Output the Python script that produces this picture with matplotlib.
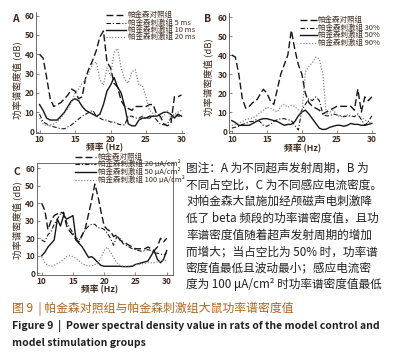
import numpy as np
import matplotlib
matplotlib.use("Agg")
import matplotlib.pyplot as plt
from matplotlib.lines import Line2D

plt.rcParams['font.family'] = ['Noto Sans CJK SC', 'DejaVu Sans']
plt.rcParams['lines.scale_dashes'] = False

# ---------------- data ----------------
freq = [10, 10.5, 11, 11.5, 12, 12.5, 13, 13.5, 14, 14.5, 15, 15.5, 16, 16.5, 17, 17.5,
        18, 18.5, 19, 19.5, 20, 20.5, 21, 21.5, 22, 22.5, 23, 23.5, 24, 24.5, 25, 25.5,
        26, 26.5, 27, 27.5, 28, 28.5, 29, 29.5, 30]

# Panel A: ultrasound emission period
a_control = [40, 38, 28, 17, 13, 14, 15, 17, 19, 22, 21, 17, 18, 28, 33, 37,
             42, 49, 52, 36, 33, 25, 23, 16, 13, 12, 11, 13, 13, 13, 13, 14,
             14, 9, 8, 4, 3, 4, 18, 18, 19]
a_5ms = [9, 5, 4, 3, 2.5, 2, 1.5, 1.5, 2.5, 3.5, 5, 6.5, 8, 9, 10, 11,
         8, 7, 6, 6, 5, 5, 4, 3.5, 3.5, 8, 8, 7, 7, 8, 7, 7,
         8, 6, 4, 3.5, 4, 7, 9, 8, 8]
a_10ms = [14, 11, 7, 6, 6, 6, 8, 10, 13, 16, 17, 16, 13, 11, 10, 9,
          8, 9, 14, 21, 24, 28, 23, 20, 13, 4, 3, 3, 6, 7, 7, 8,
          8, 8, 9, 10, 10, 9, 7, 9, 8]
a_20ms = [7, 4, 3, 3.5, 4, 5, 7, 9.5, 12, 15, 20, 22, 25, 27, 31, 35,
          36, 27, 24, 33, 29, 41, 43, 33, 27, 25, 31, 32, 24, 24, 18, 11,
          9.5, 8, 7, 8, 11, 7, 9, 10, 11]

# Panel B: duty cycle
b_control = [40, 39, 30, 17, 12, 13, 15, 16, 19, 22, 20, 16, 14, 22, 30, 35,
             40, 53, 43, 35, 30, 20, 15, 13, 12, 11, 9, 10, 11, 12, 13, 13,
             13, 13, 13, 11, 22, 10, 18, 16, 18]
b_30 = [1.5, 2, 2.5, 3.5, 4, 5, 5, 6, 5, 3, 2.5, 3.5, 5, 6, 6.5, 6.5,
        6, 5.5, 3, 0.5, 11, 14, 17, 16, 18, 16, 9, 8, 8, 9, 8.5, 8,
        7.5, 8, 8, 7.5, 9, 6, 3, 5, 8]
b_50 = [5.5, 4.5, 3, 3, 3, 3, 4, 5, 6, 6.5, 6.5, 6, 5.5, 5, 4, 3,
        3.5, 3.5, 5, 8, 10, 11, 9, 6.5, 4, 1.5, 0.8, 1, 2, 2.5, 3, 3,
        2.5, 3, 4, 3.5, 3.5, 3, 3, 3.5, 4]
b_90 = [3, 3.5, 4, 5, 6, 6.5, 7, 8, 9.5, 11, 12.5, 12, 11, 10, 13, 14,
        12.5, 13.5, 13, 11, 9.5, 31, 34, 36, 39, 38, 30, 9, 10, 11, 8.5, 7.5,
        8, 8.5, 7.5, 8, 8, 7, 6, 4, 5]

# Panel C: induced current density
c_control = [40, 36, 25, 30, 33, 34, 35, 34, 27, 24, 22, 19, 18, 22, 26, 34,
             42, 51, 44, 35, 27, 25, 24, 21, 22, 19, 18, 17, 16, 15, 14, 14,
             14, 14, 15, 14, 13, 15, 20, 18, 20]
c_20 = [19, 18, 22, 24, 28, 31, 34, 35, 29, 26, 23, 20, 19, 22, 25, 27,
        28, 28, 26, 26, 25, 23, 20, 16, 21, 20, 17, 16, 15, 14, 13.5, 13,
        12.5, 13, 13.5, 13, 11.5, 11.5, 11, 10.5, 11.5]
c_50 = [10, 12, 15, 17, 19, 31, 27, 33, 31, 32, 33, 19, 17, 15, 12, 9,
        9.5, 8, 6, 4.5, 4, 4, 4, 4, 4, 4, 3.8, 3.8, 3.8, 4, 5, 5.5,
        6, 6.5, 7, 10, 13, 8, 6, 8, 13]
c_100 = [9.5, 6, 4.5, 4, 4.5, 5.5, 6.5, 8, 9.5, 10, 9.5, 8.5, 7, 5.5, 4.5, 4.2,
         4.2, 5, 6, 9, 13, 15, 12, 9, 6, 4.5, 4, 4, 4.2, 4.5, 5, 5,
         5.5, 5.5, 6, 6, 6, 6.5, 7, 7, 7.5]

labels_a = ['帕金森对照组', '帕金森刺激组 5 ms', '帕金森刺激组 10 ms', '帕金森刺激组 20 ms']
labels_b = ['帕金森对照组', '帕金森刺激组 30%', '帕金森刺激组 50%', '帕金森刺激组 90%']
labels_c = ['帕金森对照组', '帕金森刺激组 20 μA/cm²', '帕金森刺激组 50 μA/cm²', '帕金森刺激组 100 μA/cm²']

xticks = [10, 15, 20, 25, 30]
yticks = [0, 10, 20, 30, 40, 50, 60]
xlabel = '频率 (Hz)'
ylabel = '功率谱密度值 (dB)'

note_lines = ['图注：A 为不同超声发射周期，B 为',
              '不同占空比，C 为不同感应电流密度。',
              '对帕金森大鼠施加经颅磁声电刺激降',
              '低了 beta 频段的功率谱密度值，且功',
              '率谱密度值随着超声发射周期的增加',
              '而增大；当占空比为 50% 时，功率谱',
              '密度值最低且波动最小；感应电流密',
              '度为 100 μA/cm² 时功率谱密度值最低']
cap_cn = '图 9  | 帕金森对照组与帕金森刺激组大鼠功率谱密度值'
cap_en1 = 'Figure 9  |  Power spectral density value in rats of the model control and'
cap_en2 = 'model stimulation groups'

# ---------------- styles ----------------
TXT = '#3d2a1c'
styles = [dict(color='#161616', lw=1.0, dashes=(5.0, 2.2)),
          dict(color='#161616', lw=0.8, dashes=(3.2, 1.4, 0.8, 1.4)),
          dict(color='#161616', lw=1.0, linestyle='-'),
          dict(color='#7a7a7a', lw=0.9, dashes=(0.8, 1.3))]

W, H = 397, 364
fig = plt.figure(figsize=(W / 100, H / 100), dpi=100)


def fx(px):
    return px / W


def fy(py):
    return 1 - py / H


def make_ax(l, t, r, b, xlim, ylim, box=False):
    ax = fig.add_axes([fx(l), fy(b), fx(r) - fx(l), fy(t) - fy(b)])
    ax.set_xlim(*xlim)
    ax.set_ylim(*ylim)
    ax.set_xticks(xticks)
    ax.set_yticks(yticks)
    for s in ['top', 'right']:
        ax.spines[s].set_visible(box)
    for s in ax.spines.values():
        s.set_linewidth(0.6)
        s.set_color('#555555')
    ax.tick_params(direction='in', length=2, width=0.5, colors='#555555',
                   labelcolor=TXT, labelsize=6.0, pad=1.2)
    for lab in ax.get_xticklabels() + ax.get_yticklabels():
        lab.set_fontweight('bold')
    ax.set_facecolor('none')
    return ax


def plot_series(ax, series):
    for ys, st in zip(series, styles):
        ax.plot(freq, ys, **st)


def legend(x0, x1, xt, ys, labels):
    for py, lab, st in zip(ys, labels, styles):
        fig.add_artist(Line2D([fx(x0), fx(x1)], [fy(py), fy(py)], transform=fig.transFigure, **st))
        fig.text(fx(xt), fy(py), lab, fontsize=5.4, color=TXT, va='center', ha='left')


# Panel A
axA = make_ax(36, 11.7, 184, 133, (9.5, 30.35), (-0.7, 62))
plot_series(axA, [a_control, a_5ms, a_10ms, a_20ms])
fig.text(fx(12), fy(19), 'A', fontsize=7.5, fontweight='bold', color=TXT, ha='left', va='center')
fig.text(fx(105), fy(147.5), xlabel, fontsize=6.3, fontweight='bold', color=TXT, ha='center', va='center')
fig.text(fx(17), fy(80), ylabel, fontsize=6.8, rotation=90, color=TXT, ha='center', va='center')
legend(106, 126, 128, [15, 22.7, 30, 37.3], labels_a)

# Panel B
axB = make_ax(229, 13.3, 375, 133.3, (9.6, 30.45), (-1.2, 62))
plot_series(axB, [b_control, b_30, b_50, b_90])
fig.text(fx(204), fy(19), 'B', fontsize=7.5, fontweight='bold', color=TXT, ha='left', va='center')
fig.text(fx(303), fy(148.5), xlabel, fontsize=6.3, fontweight='bold', color=TXT, ha='center', va='center')
fig.text(fx(208), fy(77), ylabel, fontsize=6.8, rotation=90, color=TXT, ha='center', va='center')
legend(300, 317, 318, [20, 27.7, 35, 42.7], labels_b)

# Panel C
axC = make_ax(36.7, 163.3, 173.3, 275, (9.2, 31.05), (-1, 62.9), box=True)
plot_series(axC, [c_control, c_20, c_50, c_100])
fig.text(fx(13), fy(172), 'C', fontsize=7.5, fontweight='bold', color=TXT, ha='left', va='center')
fig.text(fx(100), fy(290), xlabel, fontsize=6.3, fontweight='bold', color=TXT, ha='center', va='center')
fig.text(fx(17), fy(220), ylabel, fontsize=6.8, rotation=90, color=TXT, ha='center', va='center')
legend(75, 96, 98, [156.7, 164.2, 172.3, 180], labels_c)

# note text on the right of panel C
for i, line in enumerate(note_lines):
    fig.text(fx(186), fy(168 + i * 16.7), line, fontsize=8.4, color='#231f20', ha='left', va='center')

# captions
t1 = fig.text(fx(12), fy(308.5), cap_cn, fontsize=8.2, color='#b0651e', ha='left', va='center')
t2 = fig.text(fx(12), fy(325.5), cap_en1, fontsize=6.6, fontweight='bold', color='#231f20', ha='left', va='center')
t3 = fig.text(fx(12), fy(342.5), cap_en2, fontsize=6.6, fontweight='bold', color='#231f20', ha='left', va='center')

# fit caption widths to the reference extents
fig.canvas.draw()
r = fig.canvas.get_renderer()
for t, target in [(t1, 281), (t2, 366)]:
    w = t.get_window_extent(r).width
    t.set_fontsize(t.get_fontsize() * target / w)
t3.set_fontsize(t2.get_fontsize())

fig.savefig('out.png', dpi=100)
